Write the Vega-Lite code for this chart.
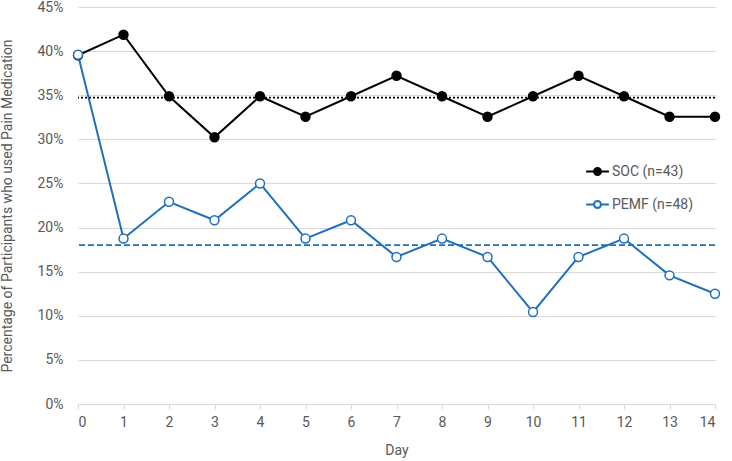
{
  "$schema": "https://vega.github.io/schema/vega-lite/v6.json",
  "width": 732,
  "height": 461,
  "autosize": {"type": "fit", "contains": "padding"},
  "padding": {"top": 0, "right": 9, "bottom": 4, "left": 0},
  "background": "white",
  "datasets": {
    "series": [
      {"day": 0, "group": "SOC (n=43)", "pct": 0.3953},
      {"day": 1, "group": "SOC (n=43)", "pct": 0.4186},
      {"day": 2, "group": "SOC (n=43)", "pct": 0.3488},
      {"day": 3, "group": "SOC (n=43)", "pct": 0.3023},
      {"day": 4, "group": "SOC (n=43)", "pct": 0.3488},
      {"day": 5, "group": "SOC (n=43)", "pct": 0.3256},
      {"day": 6, "group": "SOC (n=43)", "pct": 0.3488},
      {"day": 7, "group": "SOC (n=43)", "pct": 0.3721},
      {"day": 8, "group": "SOC (n=43)", "pct": 0.3488},
      {"day": 9, "group": "SOC (n=43)", "pct": 0.3256},
      {"day": 10, "group": "SOC (n=43)", "pct": 0.3488},
      {"day": 11, "group": "SOC (n=43)", "pct": 0.3721},
      {"day": 12, "group": "SOC (n=43)", "pct": 0.3488},
      {"day": 13, "group": "SOC (n=43)", "pct": 0.3256},
      {"day": 14, "group": "SOC (n=43)", "pct": 0.3256},
      {"day": 0, "group": "PEMF (n=48)", "pct": 0.3958},
      {"day": 1, "group": "PEMF (n=48)", "pct": 0.1875},
      {"day": 2, "group": "PEMF (n=48)", "pct": 0.2292},
      {"day": 3, "group": "PEMF (n=48)", "pct": 0.2083},
      {"day": 4, "group": "PEMF (n=48)", "pct": 0.25},
      {"day": 5, "group": "PEMF (n=48)", "pct": 0.1875},
      {"day": 6, "group": "PEMF (n=48)", "pct": 0.2083},
      {"day": 7, "group": "PEMF (n=48)", "pct": 0.1667},
      {"day": 8, "group": "PEMF (n=48)", "pct": 0.1875},
      {"day": 9, "group": "PEMF (n=48)", "pct": 0.1667},
      {"day": 10, "group": "PEMF (n=48)", "pct": 0.1042},
      {"day": 11, "group": "PEMF (n=48)", "pct": 0.1667},
      {"day": 12, "group": "PEMF (n=48)", "pct": 0.1875},
      {"day": 13, "group": "PEMF (n=48)", "pct": 0.1458},
      {"day": 14, "group": "PEMF (n=48)", "pct": 0.125}
    ],
    "means": [
      {"group": "SOC (n=43)", "mean": 0.3472},
      {"group": "PEMF (n=48)", "mean": 0.1801}
    ]
  },
  "layer": [
    {
      "data": {"name": "series"},
      "mark": {"type": "line", "strokeWidth": 2},
      "encoding": {
        "x": {
          "field": "day",
          "type": "quantitative",
          "title": "Day",
          "scale": {"domain": [0, 14], "nice": false, "zero": false},
          "axis": {
            "values": [0, 1, 2, 3, 4, 5, 6, 7, 8, 9, 10, 11, 12, 13, 14],
            "grid": false,
            "domainColor": "#d9d9d9",
            "tickColor": "#d9d9d9",
            "tickSize": 5,
            "labelPadding": 6,
            "titlePadding": 14
          }
        },
        "y": {
          "field": "pct",
          "type": "quantitative",
          "title": "Percentage of Participants who used Pain Medication",
          "scale": {"domain": [0, 0.45], "nice": false},
          "axis": {
            "format": ".0%",
            "values": [0, 0.05, 0.1, 0.15, 0.2, 0.25, 0.3, 0.35, 0.4, 0.45],
            "domain": false,
            "ticks": false,
            "gridColor": "#d9d9d9",
            "labelPadding": 15,
            "titlePadding": 23
          }
        },
        "color": {
          "field": "group",
          "type": "nominal",
          "sort": ["SOC (n=43)", "PEMF (n=48)"],
          "scale": {"domain": ["SOC (n=43)", "PEMF (n=48)"], "range": ["#000000", "#1f6fbf"]},
          "legend": {
            "title": null,
            "orient": "none",
            "legendX": 507,
            "legendY": 152,
            "rowPadding": 13,
            "symbolType": "M-1,0H-0.3M0.3,0H1M-0.3,0A0.3,0.3 0 1,0 0.3,0A0.3,0.3 0 1,0 -0.3,0",
            "symbolSize": 520,
            "symbolStrokeWidth": 2,
            "labelFontSize": 14,
            "labelColor": "#595959",
            "labelOffset": 2,
            "encode": {
              "symbols": {
                "update": {
                  "fill": [
                    {"test": "datum.value === 'PEMF (n=48)'", "value": "white"},
                    {"value": "black"}
                  ]
                }
              }
            }
          }
        }
      }
    },
    {
      "data": {"name": "means"},
      "transform": [{"filter": "datum.group === 'SOC (n=43)'"}],
      "mark": {"type": "rule", "strokeWidth": 1.8, "strokeDash": [2, 2], "color": "#000000"},
      "encoding": {
        "y": {"field": "mean", "type": "quantitative"}
      }
    },
    {
      "data": {"name": "means"},
      "transform": [{"filter": "datum.group === 'PEMF (n=48)'"}],
      "mark": {"type": "rule", "strokeWidth": 1.8, "strokeDash": [6, 3], "color": "#1f6fbf"},
      "encoding": {
        "y": {"field": "mean", "type": "quantitative"}
      }
    },
    {
      "data": {"name": "series"},
      "mark": {"type": "point", "filled": false, "size": 80, "strokeWidth": 1.5, "opacity": 1},
      "encoding": {
        "x": {"field": "day", "type": "quantitative"},
        "y": {"field": "pct", "type": "quantitative"},
        "color": {"field": "group", "type": "nominal"},
        "fill": {
          "field": "group",
          "type": "nominal",
          "scale": {"domain": ["SOC (n=43)", "PEMF (n=48)"], "range": ["#000000", "white"]},
          "legend": null
        }
      }
    }
  ],
  "config": {
    "font": "Roboto",
    "view": {"stroke": null},
    "axis": {
      "labelFont": "Roboto",
      "titleFont": "Roboto",
      "labelFontSize": 14,
      "titleFontSize": 14,
      "labelColor": "#595959",
      "titleColor": "#595959",
      "titleFontWeight": "normal"
    },
    "legend": {"labelFont": "Roboto"}
  }
}
